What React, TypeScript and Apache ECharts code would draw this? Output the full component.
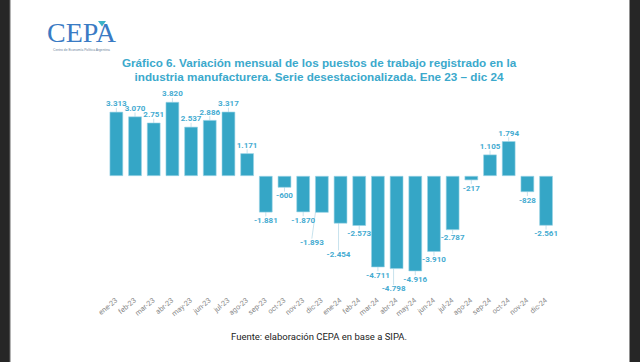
import React, { useEffect, useRef } from "react";
import * as echarts from "echarts";

const categories = [
  "ene-23", "feb-23", "mar-23", "abr-23", "may-23", "jun-23", "jul-23", "ago-23",
  "sep-23", "oct-23", "nov-23", "dic-23", "ene-24", "feb-24", "mar-24", "abr-24",
  "may-24", "jun-24", "jul-24", "ago-24", "sep-24", "oct-24", "nov-24", "dic-24",
];
const values = [
  3313, 3070, 2751, 3820, 2537, 2886, 3317, 1171,
  -1881, -600, -1870, -1893, -2454, -2573, -4711, -4798,
  -4916, -3910, -2787, -217, 1105, 1794, -828, -2561,
];
// labels moved away from their bar, joined to it by a leader line
const movedLabels: Record<number, { dx: number; dy: number }> = {
  11: { dx: -10, dy: 22 },
  12: { dx: -2, dy: 23 },
  15: { dx: -3, dy: 12 },
};
const titleLines = [
  "Gráfico 6. Variación mensual de los puestos de trabajo registrado en la",
  "industria manufacturera. Serie desestacionalizada. Ene 23 – dic 24",
];
const sourceText = "Fuente: elaboración CEPA en base a SIPA.";

const fmt = (v: number) => {
  const s = Math.abs(v).toString().replace(/\B(?=(\d{3})+(?!\d))/g, ".");
  return (v < 0 ? "-" : "") + s;
};

export default function App() {
  const ref = useRef<HTMLDivElement>(null);
  useEffect(() => {
    document.body.style.margin = "0";
    const chart = echarts.init(ref.current!, null, { renderer: "svg" });
    const barColor = "#35a6c6";
    const labelColor = "#44abd1";
    chart.setOption({
      animation: false,
      backgroundColor: "#ffffff",
      grid: { left: 107, right: 84.6, top: 98.5, bottom: 69.8 },
      xAxis: {
        type: "category",
        data: categories,
        axisLine: { show: false },
        axisTick: { show: false },
        axisLabel: {
          rotate: 40,
          fontSize: 7.3,
          color: "#8a8a8a",
          fontFamily: "Roboto",
          margin: 7,
          interval: 0,
        },
      },
      yAxis: {
        type: "value",
        min: -6000,
        max: 4000,
        show: false,
        splitLine: { show: false },
      },
      series: [
        {
          type: "bar",
          data: values,
          barCategoryGap: "28%",
          itemStyle: { color: barColor, borderColor: "#9ad3e5", borderWidth: 0.6 },
          label: {
            show: true,
            position: "outside",
            formatter: (p: any) => fmt(p.value),
            fontSize: 8,
            fontWeight: "bold",
            color: labelColor,
            fontFamily: "Roboto",
            distance: 4,
          },
          labelLine: { show: true, lineStyle: { color: "#b9dbe8", width: 0.8 } },
          labelLayout: (p: any) => {
            const m = movedLabels[p.dataIndex];
            return m ? { dx: m.dx, dy: m.dy } : {};
          },
        },
      ],
      graphic: [
        { type: "rect", shape: { x: 0, y: 0, width: 10, height: 362 }, style: { fill: "#262626" } },
        { type: "rect", shape: { x: 9.5, y: 0, width: 1, height: 362 }, style: { fill: "#6a6a6a" } },
        { type: "rect", shape: { x: 629.5, y: 0, width: 10.5, height: 362 }, style: { fill: "#262626" } },
        {
          type: "text",
          x: 47,
          y: 18,
          style: {
            text: "CEPA",
            font: "28px 'Liberation Serif'",
            fill: "#3a7bc4",
          },
        },
        {
          type: "polygon",
          shape: { points: [[98, 21], [106, 21], [102, 26.5]] },
          style: { fill: "#3bb3c8" },
        },
        {
          type: "text",
          x: 53,
          y: 48,
          style: {
            text: "Centro de Economía Política Argentina",
            font: "3.3px 'Liberation Sans'",
            fill: "#6d7f99",
          },
        },
        ...titleLines.map((t, i) => ({
          type: "text",
          x: 319,
          y: 62 + i * 14,
          style: {
            text: t,
            font: "bold 11.7px 'Liberation Sans'",
            fill: "#3ba9cc",
            textAlign: "center",
            textVerticalAlign: "middle",
          },
        })),
        {
          type: "text",
          x: 319,
          y: 336.5,
          style: {
            text: sourceText,
            font: "9.5px Roboto",
            fill: "#222222",
            textAlign: "center",
            textVerticalAlign: "middle",
          },
        },
      ],
    });
    return () => chart.dispose();
  }, []);
  return <div ref={ref} style={{ width: 640, height: 362 }} />;
}
